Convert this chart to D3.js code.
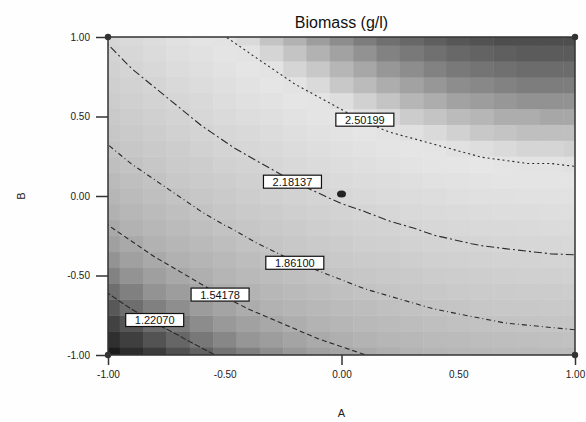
<!DOCTYPE html>
<html><head><meta charset="utf-8">
<script src="https://cdn.jsdelivr.net/npm/d3@7"></script>
<style>
body{margin:0;background:#fff;}
svg{display:block;font-family:"Liberation Sans",Arial,sans-serif;}
</style>
</head><body>
<svg id="chart" width="586" height="422"></svg>
<script>
// ---- data ----
const aValues = [-1.0,-0.9,-0.8,-0.7,-0.6,-0.5,-0.4,-0.3,-0.2,-0.1,0.0,0.1,0.2,0.3,0.4,0.5,0.6,0.7,0.8,0.9,1.0];
const bValues = [-1.0,-0.9,-0.8,-0.7,-0.6,-0.5,-0.4,-0.3,-0.2,-0.1,0.0,0.1,0.2,0.3,0.4,0.5,0.6,0.7,0.8,0.9,1.0];
// biomass (g/l), one row per B value (B = -1 first), one column per A value
const biomassGrid = [
  [0.90,0.98,1.05,1.12,1.18,1.25,1.30,1.36,1.41,1.46,1.50,1.54,1.58,1.61,1.64,1.67,1.69,1.71,1.72,1.73,1.74],
  [0.99,1.06,1.13,1.20,1.27,1.33,1.39,1.44,1.49,1.54,1.58,1.62,1.66,1.69,1.72,1.74,1.77,1.78,1.80,1.81,1.82],
  [1.07,1.14,1.22,1.28,1.35,1.41,1.47,1.52,1.57,1.62,1.66,1.70,1.73,1.77,1.79,1.82,1.84,1.86,1.87,1.88,1.89],
  [1.15,1.23,1.30,1.36,1.43,1.49,1.55,1.60,1.65,1.69,1.74,1.77,1.81,1.84,1.87,1.89,1.91,1.93,1.94,1.95,1.96],
  [1.23,1.30,1.38,1.44,1.51,1.57,1.62,1.67,1.72,1.77,1.81,1.85,1.88,1.91,1.94,1.97,1.99,2.00,2.02,2.02,2.03],
  [1.31,1.38,1.45,1.52,1.58,1.64,1.70,1.75,1.80,1.84,1.88,1.92,1.95,1.98,2.01,2.04,2.05,2.07,2.08,2.09,2.10],
  [1.38,1.46,1.53,1.59,1.65,1.71,1.77,1.82,1.87,1.91,1.95,1.99,2.02,2.05,2.08,2.10,2.12,2.14,2.15,2.16,2.16],
  [1.46,1.53,1.60,1.66,1.72,1.78,1.84,1.89,1.94,1.98,2.02,2.06,2.09,2.12,2.15,2.17,2.19,2.20,2.21,2.22,2.23],
  [1.53,1.60,1.67,1.73,1.79,1.85,1.90,1.96,2.00,2.05,2.09,2.12,2.15,2.18,2.21,2.23,2.25,2.26,2.27,2.28,2.29],
  [1.59,1.67,1.73,1.80,1.86,1.92,1.97,2.02,2.07,2.11,2.15,2.18,2.22,2.25,2.27,2.29,2.31,2.32,2.33,2.34,2.34],
  [1.66,1.73,1.80,1.86,1.92,1.98,2.03,2.08,2.13,2.17,2.21,2.25,2.28,2.30,2.33,2.35,2.37,2.38,2.39,2.40,2.40],
  [1.72,1.79,1.86,1.93,1.99,2.04,2.09,2.14,2.19,2.23,2.27,2.30,2.33,2.36,2.39,2.41,2.42,2.44,2.45,2.45,2.45],
  [1.79,1.86,1.92,1.99,2.04,2.10,2.15,2.20,2.25,2.29,2.33,2.36,2.39,2.42,2.44,2.46,2.48,2.49,2.50,2.50,2.51],
  [1.85,1.91,1.98,2.04,2.10,2.16,2.21,2.26,2.30,2.34,2.38,2.41,2.44,2.47,2.49,2.51,2.53,2.54,2.55,2.55,2.56],
  [1.90,1.97,2.04,2.10,2.16,2.21,2.26,2.31,2.36,2.40,2.43,2.47,2.50,2.52,2.54,2.56,2.58,2.59,2.60,2.60,2.60],
  [1.96,2.03,2.09,2.15,2.21,2.27,2.32,2.36,2.41,2.45,2.48,2.52,2.54,2.57,2.59,2.61,2.62,2.64,2.64,2.65,2.65],
  [2.01,2.08,2.14,2.20,2.26,2.32,2.37,2.41,2.46,2.49,2.53,2.56,2.59,2.62,2.64,2.66,2.67,2.68,2.69,2.69,2.69],
  [2.06,2.13,2.19,2.25,2.31,2.36,2.41,2.46,2.50,2.54,2.58,2.61,2.64,2.66,2.68,2.70,2.71,2.72,2.73,2.73,2.73],
  [2.11,2.18,2.24,2.30,2.36,2.41,2.46,2.50,2.55,2.58,2.62,2.65,2.68,2.70,2.72,2.74,2.75,2.76,2.77,2.77,2.77],
  [2.16,2.22,2.29,2.35,2.40,2.45,2.50,2.55,2.59,2.63,2.66,2.69,2.72,2.74,2.76,2.78,2.79,2.80,2.81,2.81,2.81],
  [2.20,2.27,2.33,2.39,2.44,2.50,2.54,2.59,2.63,2.67,2.70,2.73,2.76,2.78,2.80,2.82,2.83,2.84,2.84,2.84,2.84]
];
const contourLevels = [1.22070, 1.54178, 1.86100, 2.18137, 2.50199];
const contourLabels = ["1.22070", "1.54178", "1.86100", "2.18137", "2.50199"];
const labelA = [-0.80, -0.52, -0.20, -0.21, 0.10];
const labelB = [-0.78, -0.62, -0.42, 0.09, 0.48];
const designA = [-1, 1, -1, 1];
const designB = [-1, -1, 1, 1];
const centerA = [0.0];
const centerB = [0.0];
const axisTicks = [-1, -0.5, 0, 0.5, 1];
const axisTickLabels = ["-1.00", "-0.50", "0.00", "0.50", "1.00"];
const title = "Biomass (g/l)";
const xTitle = "A";
const yTitle = "B";

// ---- drawing ----
const svg = d3.select("#chart");
const L = 108, R = 575, T = 37, B = 355;
const x = d3.scaleLinear().domain([-1, 1]).range([L, R]);
const y = d3.scaleLinear().domain([-1, 1]).range([B, T]);
const step = 0.1;

const gray = d3.scaleLinear()
  .domain([0.90, 1.05, 1.22, 1.40, 1.60, 1.90, 2.20, 2.48, 2.53, 2.63, 2.73, 2.84])
  .range([28, 60, 108, 152, 178, 198, 214, 230, 222, 178, 125, 78])
  .clamp(true);

svg.append("rect").attr("width", 586).attr("height", 422).attr("fill", "#fefefe");

svg.append("defs").append("clipPath").attr("id", "plotclip")
  .append("rect").attr("x", L).attr("y", T).attr("width", R - L).attr("height", B - T);

const plot = svg.append("g").attr("clip-path", "url(#plotclip)");

// heat cells
const cells = [];
biomassGrid.forEach((row, j) => row.forEach((v, i) => cells.push({a: aValues[i], b: bValues[j], v})));
plot.selectAll("rect.cell").data(cells).join("rect")
  .attr("class", "cell")
  .attr("x", d => x(Math.max(-1, d.a - step / 2)))
  .attr("y", d => y(Math.min(1, d.b + step / 2)))
  .attr("width", d => x(Math.min(1, d.a + step / 2)) - x(Math.max(-1, d.a - step / 2)) + 0.5)
  .attr("height", d => y(Math.max(-1, d.b - step / 2)) - y(Math.min(1, d.b + step / 2)) + 0.5)
  .attr("fill", d => { const g = Math.round(gray(d.v)); return `rgb(${g},${g},${g})`; });

// contours
const n = aValues.length, m = bValues.length;
const flat = biomassGrid.flat();
const contours = d3.contours().size([n, m]).thresholds(contourLevels)(flat);
const proj = d3.geoTransform({
  point: function(px, py) {
    this.stream.point(x(aValues[0] + (px - 0.5) * step), y(bValues[0] + (py - 0.5) * step));
  }
});
const path = d3.geoPath(proj);
const dashes = ["6,2", "5,3", "5,3,1,3", "8,3,2,3", "2,3"];
plot.selectAll("path.contour").data(contours).join("path")
  .attr("class", "contour")
  .attr("d", path)
  .attr("fill", "none")
  .attr("stroke", "#2a2a2a")
  .attr("stroke-width", 1.1)
  .attr("stroke-dasharray", (d, i) => dashes[i]);

// contour labels
const lab = plot.selectAll("g.lab").data(contourLabels).join("g")
  .attr("class", "lab")
  .attr("transform", (d, i) => `translate(${x(labelA[i])},${y(labelB[i])})`);
lab.append("rect").attr("x", -29).attr("y", -6.5).attr("width", 58).attr("height", 13)
  .attr("fill", "#fff").attr("stroke", "#111").attr("stroke-width", 1.2);
lab.append("text").attr("text-anchor", "middle").attr("y", 4)
  .attr("font-size", 11).attr("fill", "#111").text(d => d);

// frame
svg.append("rect").attr("x", L).attr("y", T).attr("width", R - L).attr("height", B - T)
  .attr("fill", "none").attr("stroke", "#333").attr("stroke-width", 1.5);

// axes
const yAxis = d3.axisLeft(y).tickValues(axisTicks)
  .tickFormat((d, i) => axisTickLabels[i]).tickSize(12).tickPadding(6);
const gy = svg.append("g").attr("transform", `translate(${L},0)`).call(yAxis);
const xAxis = d3.axisBottom(x).tickValues(axisTicks)
  .tickFormat((d, i) => axisTickLabels[i]).tickSize(10).tickPadding(6);
const gx = svg.append("g").attr("transform", `translate(0,${B})`).call(xAxis);
[gx, gy].forEach(g => {
  g.select(".domain").remove();
  g.selectAll("line").attr("stroke", "#333").attr("stroke-width", 1.5);
  g.selectAll("text").attr("font-size", 10).attr("fill", "#222")
    .attr("font-family", "'Liberation Sans',Arial,sans-serif");
});
gx.selectAll(".tick").filter(d => Math.abs(d) === 0.5).select("line").remove();

// design points
svg.selectAll("circle.design").data(designA).join("circle")
  .attr("class", "design")
  .attr("cx", (d, i) => x(d)).attr("cy", (d, i) => y(designB[i]))
  .attr("r", 3.2).attr("fill", "#333");
svg.selectAll("ellipse.center").data(centerA).join("ellipse")
  .attr("class", "center")
  .attr("cx", (d, i) => x(d)).attr("cy", (d, i) => y(centerB[i]) - 2)
  .attr("rx", 4.5).attr("ry", 3.5).attr("fill", "#222");

// titles
svg.append("text").attr("x", (L + R) / 2).attr("y", 28).attr("text-anchor", "middle")
  .attr("font-size", 16).attr("fill", "#111").text(title);
svg.append("text").attr("x", (L + R) / 2).attr("y", 417).attr("text-anchor", "middle")
  .attr("font-size", 11).attr("fill", "#222").text(xTitle);
svg.append("text").attr("transform", `translate(25,${(T + B) / 2}) rotate(-90)`)
  .attr("text-anchor", "middle").attr("font-size", 11).attr("fill", "#222").text(yTitle);
</script>
</body></html>
